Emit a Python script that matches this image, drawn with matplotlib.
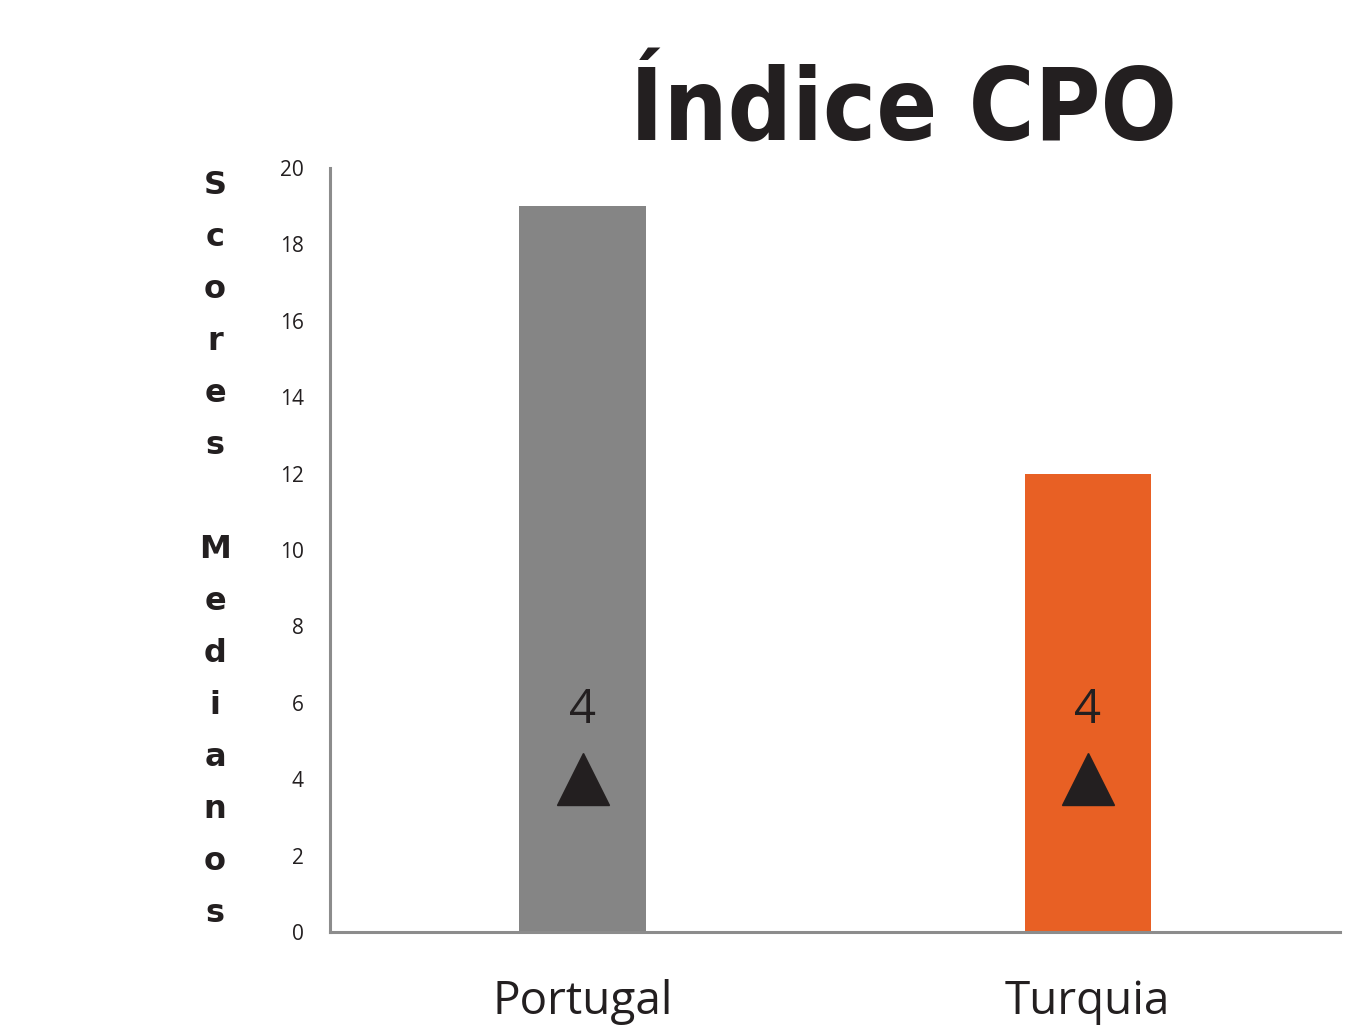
import matplotlib
matplotlib.use("Agg")
import matplotlib.pyplot as plt

# dados
paises = ["Portugal", "Turquia"]
scores = [19, 12]
marcador = [4, 4]
rotulos = ["4", "4"]
cores = ["#858585", "#e86024"]
ticks_y = [0, 2, 4, 6, 8, 10, 12, 14, 16, 18, 20]

texto = "#231f20"
cinza_eixo = "#8c8c8c"

fig = plt.figure(figsize=(13.47, 10.30), dpi=100)
ax = fig.add_axes([0.245, 0.0951, 0.750, 0.7418])

x = list(range(len(paises)))
ax.bar(x, scores, width=0.25, color=cores, zorder=1)
ax.plot(x, marcador, linestyle="none", marker="^", markersize=38,
        color=texto, zorder=3)
for xi, yi, r in zip(x, marcador, rotulos):
    ax.text(xi, yi + 1.8, r, ha="center", va="center", fontsize=34,
            family="Open Sans", color=texto, zorder=3)

ax.set_xlim(-0.5, 1.5)
ax.set_ylim(0, 20)
ax.set_yticks(ticks_y)
ax.set_xticks(x)
ax.set_xticklabels(paises, fontsize=33, family="Open Sans", color=texto)
for lab in ax.get_yticklabels():
    lab.set_family("Open Sans")
    lab.set_fontsize(15)
    lab.set_color(texto)
ax.tick_params(axis="y", length=0, pad=19)
ax.tick_params(axis="x", length=0, pad=34)

for s in ["top", "right"]:
    ax.spines[s].set_visible(False)
for s in ["left", "bottom"]:
    ax.spines[s].set_color(cinza_eixo)
    ax.spines[s].set_linewidth(2.2)

# título
fig.text(903 / 1347, 1 - 141 / 1030, "Índice CPO", ha="center", va="baseline",
         fontsize=72, fontweight="bold", fontstretch="condensed",
         family="DejaVu Sans", color=texto)

# rótulo vertical, letra a letra
rotulo_y = "Scores Medianos"
y0 = 185
passo = 52.0
for i, ch in enumerate(rotulo_y):
    if ch == " ":
        continue
    fig.text(215 / 1347, 1 - (y0 + i * passo) / 1030, ch, ha="center",
             va="center", fontsize=23, fontweight="bold", color=texto)

fig.savefig("out.png", dpi=100)
